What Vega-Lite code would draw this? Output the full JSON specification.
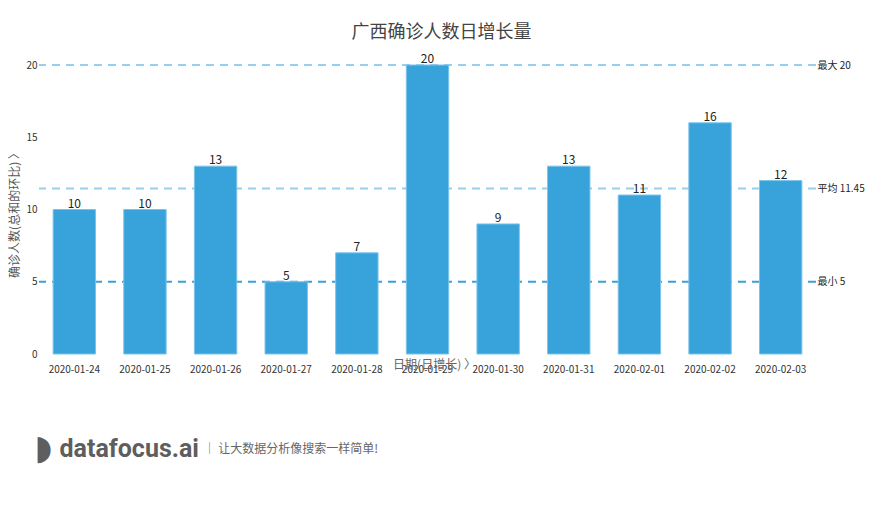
{
  "$schema": "https://vega.github.io/schema/vega-lite/v6.json",
  "autosize": "none",
  "width": 777,
  "height": 289,
  "padding": {"left": 39, "top": 65, "right": 65, "bottom": 159},
  "background": "white",
  "config": {"view": {"stroke": null}, "font": "Noto Sans CJK SC"},
  "title": {
    "text": "广西确诊人数日增长量",
    "anchor": "middle",
    "dx": 14,
    "offset": 11,
    "fontSize": 18,
    "fontWeight": "normal",
    "color": "#444444",
    "font": "Noto Sans CJK SC"
  },
  "datasets": {
    "daily": [
      {"date": "2020-01-24", "count": 10},
      {"date": "2020-01-25", "count": 10},
      {"date": "2020-01-26", "count": 13},
      {"date": "2020-01-27", "count": 5},
      {"date": "2020-01-28", "count": 7},
      {"date": "2020-01-29", "count": 20},
      {"date": "2020-01-30", "count": 9},
      {"date": "2020-01-31", "count": 13},
      {"date": "2020-02-01", "count": 11},
      {"date": "2020-02-02", "count": 16},
      {"date": "2020-02-03", "count": 12}
    ],
    "refs": [
      {"kind": "最大", "level": 20},
      {"kind": "平均", "level": 11.45},
      {"kind": "最小", "level": 5}
    ]
  },
  "resolve": {"axis": {"x": "independent", "y": "independent"}},
  "layer": [
    {
      "data": {"name": "refs"},
      "mark": {"type": "rule", "strokeDash": [8, 6]},
      "encoding": {
        "y": {
          "field": "level",
          "type": "quantitative",
          "scale": {"domain": [0, 20], "nice": false},
          "axis": {
            "orient": "right",
            "values": [5, 11.45, 20],
            "labelExpr": "datum.value == 20 ? '最大 20' : (datum.value == 5 ? '最小 5' : '平均 11.45')",
            "domain": false,
            "ticks": false,
            "grid": false,
            "labelPadding": 1,
            "labelFontSize": 10,
            "labelColor": "#222222",
            "labelFont": "Noto Sans CJK SC",
            "title": "◗",
            "titleFont": "DejaVu Sans",
            "titleFontSize": 34,
            "titleFontWeight": "normal",
            "titleColor": "#5E5E5E",
            "titleAngle": 0,
            "titleX": -773,
            "titleY": 383,
            "titleAlign": "center",
            "titleBaseline": "middle"
          }
        },
        "color": {
          "field": "kind",
          "type": "nominal",
          "scale": {"domain": ["最大", "平均", "最小"], "range": ["#96D0EE", "#96D0EE", "#3AA0DC"]},
          "legend": null
        },
        "strokeWidth": {
          "field": "kind",
          "type": "nominal",
          "scale": {"domain": ["最大", "平均", "最小"], "range": [2, 2, 1]},
          "legend": null
        }
      }
    },
    {
      "data": {"name": "daily"},
      "mark": {"type": "bar", "color": "#38A2DA", "stroke": "#7CC3EA", "strokeWidth": 1},
      "encoding": {
        "x": {
          "field": "date",
          "type": "nominal",
          "sort": null,
          "scale": {"paddingInner": 0.4, "paddingOuter": 0.2},
          "axis": {
            "orient": "bottom",
            "labelAngle": 0,
            "labelFontSize": 10,
            "labelColor": "#333333",
            "labelPadding": 10,
            "labelFont": "Noto Sans CJK SC",
            "domain": false,
            "ticks": false,
            "grid": false,
            "title": "日期(日增长) 〉",
            "titleFontSize": 12,
            "titleFontWeight": "normal",
            "titleColor": "#666666",
            "titleFont": "Noto Sans CJK SC",
            "titleX": 395,
            "titleY": 10,
            "titleBaseline": "middle",
            "titleAlign": "center"
          }
        },
        "y": {
          "field": "count",
          "type": "quantitative",
          "scale": {"domain": [0, 20], "nice": false},
          "axis": {
            "orient": "left",
            "values": [0, 5, 10, 15, 20],
            "domain": false,
            "ticks": false,
            "grid": false,
            "labelPadding": 2,
            "labelFontSize": 10,
            "labelColor": "#333333",
            "labelFont": "Noto Sans CJK SC",
            "title": "确诊人数(总和的环比) 〉",
            "titleFontSize": 12,
            "titleFontWeight": "normal",
            "titleColor": "#555555",
            "titleFont": "Noto Sans CJK SC",
            "titleX": -25,
            "titleY": 147,
            "titleAngle": -90,
            "titleBaseline": "middle",
            "titleAlign": "center"
          }
        }
      }
    },
    {
      "data": {"name": "daily"},
      "mark": {"type": "text", "baseline": "bottom", "dy": 1, "fontSize": 12, "color": "#222222", "font": "Noto Sans CJK SC"},
      "encoding": {
        "x": {
          "field": "date",
          "type": "nominal",
          "sort": null,
          "axis": {
            "orient": "bottom",
            "labels": false,
            "domain": false,
            "ticks": false,
            "grid": false,
            "title": "datafocus.ai",
            "titleFont": "Roboto",
            "titleFontSize": 25,
            "titleFontWeight": "bold",
            "titleColor": "#5E5E5E",
            "titleX": 20,
            "titleY": 94,
            "titleAlign": "left",
            "titleBaseline": "middle"
          }
        },
        "y": {
          "field": "count",
          "type": "quantitative",
          "axis": {
            "orient": "left",
            "labels": false,
            "domain": false,
            "ticks": false,
            "grid": false,
            "title": "│  让大数据分析像搜索一样简单!",
            "titleFont": "Noto Sans CJK SC",
            "titleFontSize": 12,
            "titleFontWeight": "normal",
            "titleColor": "#666666",
            "titleAngle": 0,
            "titleX": 164,
            "titleY": 383,
            "titleAlign": "left",
            "titleBaseline": "middle"
          }
        },
        "text": {"field": "count", "type": "quantitative"}
      }
    }
  ]
}
